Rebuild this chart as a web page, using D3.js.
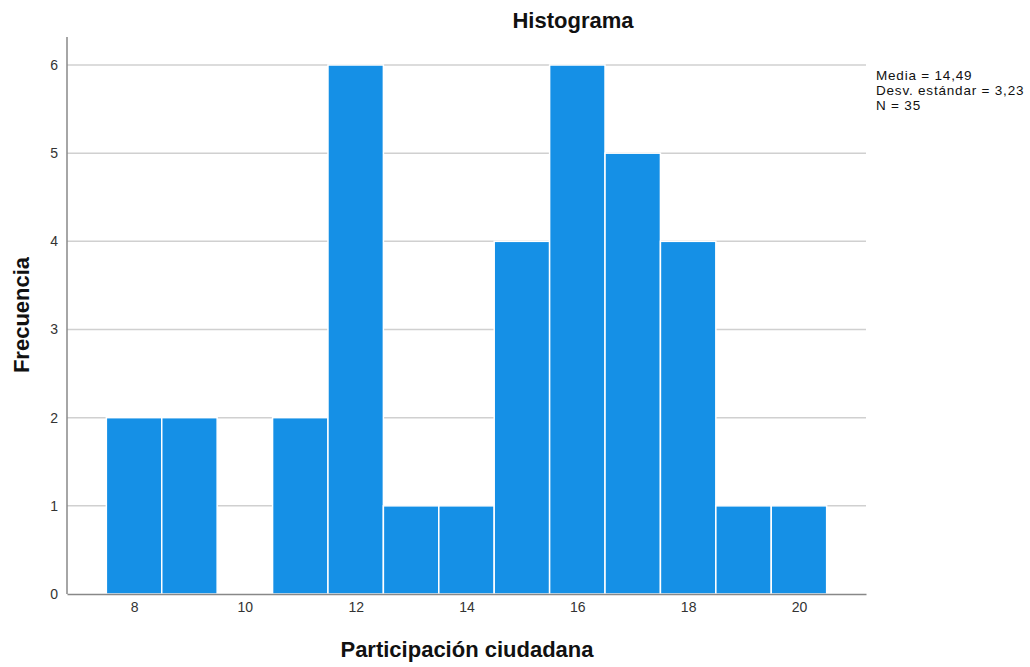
<!DOCTYPE html>
<html><head><meta charset="utf-8">
<script src="https://cdn.jsdelivr.net/npm/d3@7"></script>
<style>body{margin:0;background:#fff}svg{display:block}text{font-family:"Liberation Sans",Arial,sans-serif}</style>
</head><body>
<script>
const bins = [8,9,10,11,12,13,14,15,16,17,18,19,20];
const counts = [2,2,0,2,6,1,1,4,6,5,4,1,1];
const xTicks = [8,10,12,14,16,18,20];
const yTicks = [0,1,2,3,4,5,6];
const statsLines = ["Media = 14,49","Desv. estándar = 3,23","N = 35"];

const W=1030,H=667;
const svg=d3.select("body").append("svg").attr("width",W).attr("height",H);
const pL=67,pR=866,pT=37,pB=594;
const x=d3.scaleLinear().domain([6.79,21.21]).range([pL,pR]);
const y=d3.scaleLinear().domain([0,6]).range([pB,65]);

// grid
svg.append("g").selectAll("line").data(yTicks.filter(d=>d>0)).join("line")
 .attr("x1",pL).attr("x2",pR).attr("y1",d=>y(d)).attr("y2",d=>y(d))
 .attr("stroke","#d0d0d0").attr("stroke-width",1.5);

// bars
svg.append("g").selectAll("rect").data(bins.map((b,i)=>({b,c:counts[i]})).filter(d=>d.c>0)).join("rect")
 .attr("x",d=>x(d.b-0.5)).attr("width",d=>x(d.b+0.5)-x(d.b-0.5))
 .attr("y",d=>y(d.c)).attr("height",d=>y(0)-y(d.c))
 .attr("fill","#1590e6").attr("stroke","#fff").attr("stroke-width",1.5);

// axes
const xa=svg.append("g").attr("transform",`translate(0,${pB})`)
 .call(d3.axisBottom(x).tickValues(xTicks).tickSize(0).tickPadding(8).tickFormat(d3.format("d")));
xa.select(".domain").attr("stroke","#888").attr("stroke-width",1.5);
xa.selectAll("text").attr("font-size",14).attr("fill","#333").attr("font-family","Liberation Sans, Arial, sans-serif");

const ya=svg.append("g").attr("transform",`translate(${pL},0)`)
 .call(d3.axisLeft(y).tickValues(yTicks).tickSize(0).tickPadding(9).tickFormat(d3.format("d")));
ya.select(".domain").remove();
ya.selectAll("text").attr("font-size",14).attr("fill","#333").attr("font-family","Liberation Sans, Arial, sans-serif");
svg.append("line").attr("x1",pL).attr("x2",pL).attr("y1",pT).attr("y2",pB)
 .attr("stroke","#888").attr("stroke-width",1.5);

// titles
svg.append("text").attr("x",573).attr("y",28).attr("text-anchor","middle")
 .attr("font-size",22).attr("font-weight","bold").attr("fill","#111").text("Histograma");
svg.append("text").attr("x",467).attr("y",657).attr("text-anchor","middle")
 .attr("font-size",22).attr("font-weight","bold").attr("fill","#111").text("Participación ciudadana");
svg.append("text").attr("transform","translate(29,315) rotate(-90)").attr("text-anchor","middle")
 .attr("font-size",22).attr("font-weight","bold").attr("fill","#111").text("Frecuencia");

// stats
svg.append("g").selectAll("text").data(statsLines).join("text")
 .attr("x",876).attr("y",(d,i)=>80+i*15).attr("font-size",13.5).attr("letter-spacing",0.8)
 .attr("fill","#111").text(d=>d);
</script>
</body></html>
